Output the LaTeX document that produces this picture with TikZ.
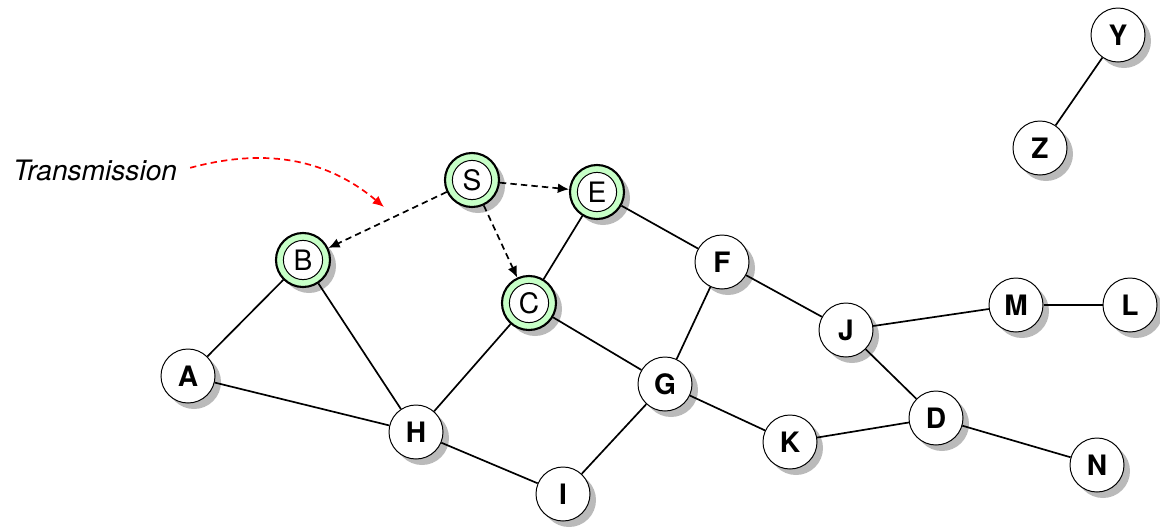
\documentclass[tikz,border=0pt]{standalone}
\usepackage{fontspec}
\setmainfont{TeX Gyre Heros}
\usetikzlibrary{arrows.meta,shadows}
\tikzset{%
	station/.style = {draw, circle, line width=0.7pt, fill=white, minimum size=1.35cm, inner sep=0pt,
		font=\bfseries\fontsize{20}{24}\selectfont,
		drop shadow={shadow xshift=0.15cm, shadow yshift=-0.15cm, fill=black!27, opacity=1}}, % plain node
	relay/.style   = {station, line width=1.5pt, fill=green!22, font=\fontsize{20}{24}\selectfont,
		path picture={\draw[line width=0.7pt, fill=white] (path picture bounding box.center) circle (0.49cm);}}, % reached node
	link/.style    = {line width=1.2pt},
	hop/.style     = {line width=1.2pt, dash pattern=on 4.5pt off 3pt, -{Latex[length=8pt,width=7pt]}},
	note/.style    = {font=\itshape\fontsize{20}{24}\selectfont},
}

\begin{document}
\begin{tikzpicture}[x=0.025cm,y=-0.025cm]
	\useasboundingbox (0,0) rectangle (1160,528);
	% nodes
	\node [station] (Y) at (1118,35) {Y};
	\node [station] (Z) at (1040,148) {Z};
	\node [relay] (S) at (472,180) {S};
	\node [relay] (E) at (597,192) {E};
	\node [relay] (B) at (303,260) {B};
	\node [relay] (C) at (529,303) {C};
	\node [station] (F) at (722,262) {F};
	\node [station] (J) at (846,330) {J};
	\node [station] (M) at (1016,305) {M};
	\node [station] (L) at (1130,305) {L};
	\node [station] (A) at (188,376) {A};
	\node [station] (G) at (665,384) {G};
	\node [station] (H) at (416,432) {H};
	\node [station] (D) at (936,418) {D};
	\node [station] (K) at (790,442) {K};
	\node [station] (N) at (1097,465) {N};
	\node [station] (I) at (563,494) {I};
	\node [note, anchor=east] (tx) at (182,170) {Transmission};
	\coordinate (tip) at (384,207);

	% links
	\draw[link] (Y) -- (Z);
	\draw[link] (B) -- (A);
	\draw[link] (B) -- (H);
	\draw[link] (A) -- (H);
	\draw[link] (H) -- (C);
	\draw[link] (H) -- (I);
	\draw[link] (C) -- (E);
	\draw[link] (C) -- (G);
	\draw[link] (E) -- (F);
	\draw[link] (F) -- (G);
	\draw[link] (F) -- (J);
	\draw[link] (G) -- (I);
	\draw[link] (G) -- (K);
	\draw[link] (K) -- (D);
	\draw[link] (J) -- (D);
	\draw[link] (J) -- (M);
	\draw[link] (M) -- (L);
	\draw[link] (D) -- (N);

	% transmissions
	\draw[hop] (S) -- (B);
	\draw[hop] (S) -- (E);
	\draw[hop] (S) -- (C);
	\draw[hop, red, shorten <=6pt] (tx.east) to[out=15,in=140] (tip);
\end{tikzpicture}
\end{document}
